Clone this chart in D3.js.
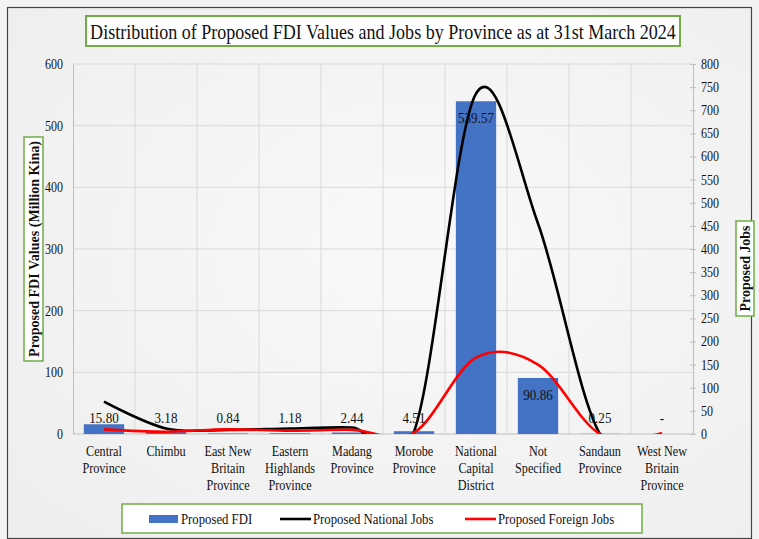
<!DOCTYPE html>
<html>
<head>
<meta charset="utf-8">
<script src="https://cdn.jsdelivr.net/npm/d3@7/dist/d3.min.js"></script>
<style>
  html, body { margin: 0; padding: 0; background: #ffffff; }
  svg { display: block; }
  text { font-family: "Liberation Serif", "Times New Roman", serif; fill: #111; }
</style>
</head>
<body>
<div id="chart"></div>
<script>
// Province categories, with their wrapped label lines
const categories = ["Central Province", "Chimbu", "East New Britain Province", "Eastern Highlands Province",
  "Madang Province", "Morobe Province", "National Capital District", "Not Specified",
  "Sandaun Province", "West New Britain Province"];
const categoryLines = [["Central", "Province"], ["Chimbu"], ["East New", "Britain", "Province"],
  ["Eastern", "Highlands", "Province"], ["Madang", "Province"], ["Morobe", "Province"],
  ["National", "Capital", "District"], ["Not", "Specified"], ["Sandaun", "Province"],
  ["West New", "Britain", "Province"]];

// Proposed FDI (Million Kina) and its printed labels
const fdiValues = [15.80, 3.18, 0.84, 1.18, 2.44, 4.51, 539.57, 90.86, 0.25, 0];
const fdiLabels = ["15.80", "3.18", "0.84", "1.18", "2.44", "4.51", "539.57", "90.86", "0.25", "-"];

// Proposed jobs (right axis)
const nationalJobs = [70, 12, 9, 12, 14, 5, 736, 455, 0, 0];
const foreignJobs = [10, 5, 10, 7, 9, 3, 165, 150, 0, 2];

// Axis ticks
const leftTicks = [0, 100, 200, 300, 400, 500, 600];
const rightTicks = [0, 50, 100, 150, 200, 250, 300, 350, 400, 450, 500, 550, 600, 650, 700, 750, 800];

const W = 759, H = 539;
const plot = { left: 73, right: 693, top: 64, bottom: 434 };
const green = "#70ad47";
const sx = 0.86; // horizontal squeeze of the serif face

const svg = d3.select("#chart").append("svg").attr("width", W).attr("height", H);

// Background panel
const defs = svg.append("defs");
const grad = defs.append("radialGradient").attr("id", "bg").attr("cx", "55%").attr("cy", "45%").attr("r", "75%");
grad.append("stop").attr("offset", "0%").attr("stop-color", "#f9f9f9");
grad.append("stop").attr("offset", "100%").attr("stop-color", "#eeeeee");
svg.append("rect").attr("width", W).attr("height", H).attr("fill", "#f3f3f3");
svg.append("rect").attr("x", 7.5).attr("y", 7.5).attr("width", W - 15).attr("height", H - 8)
  .attr("fill", "url(#bg)").attr("stroke", "#444").attr("stroke-width", 1.2);

defs.append("clipPath").attr("id", "plotClip").append("rect")
  .attr("x", plot.left).attr("y", plot.top - 30).attr("width", plot.right - plot.left)
  .attr("height", plot.bottom - plot.top + 30);

const x = d3.scaleBand().domain(categories).range([plot.left, plot.right])
  .paddingInner(0.35).paddingOuter(0.175);
const yL = d3.scaleLinear().domain([0, 600]).range([plot.bottom, plot.top]);
const yR = d3.scaleLinear().domain([0, 800]).range([plot.bottom, plot.top]);
const cx = c => x(c) + x.bandwidth() / 2;

function ctext(parent, px, py, str, size, anchor, scale) {
  return parent.append("text")
    .attr("transform", `translate(${px},${py}) scale(${scale == null ? sx : scale},1)`)
    .attr("text-anchor", anchor || "middle")
    .attr("font-size", size)
    .text(str);
}

// Gridlines
const grid = svg.append("g");
grid.selectAll("line.h").data(leftTicks.slice(1)).join("line")
  .attr("x1", plot.left).attr("x2", plot.right)
  .attr("y1", d => yL(d)).attr("y2", d => yL(d))
  .attr("stroke", "#d9d9d9").attr("stroke-width", 1);
const step = x.step();
grid.selectAll("line.v").data(categories.slice(1)).join("line")
  .attr("x1", d => x(d) - step * 0.175).attr("x2", d => x(d) - step * 0.175)
  .attr("y1", plot.top).attr("y2", plot.bottom)
  .attr("stroke", "#d9d9d9").attr("stroke-width", 1);

// Left axis
const axL = svg.append("g").attr("transform", `translate(${plot.left},0)`)
  .call(d3.axisLeft(yL).tickValues(leftTicks).tickSize(0).tickPadding(10));
axL.select(".domain").attr("stroke", "#bfbfbf");
axL.selectAll("text").attr("font-size", 14).attr("font-family", "Liberation Serif").attr("fill", "#222")
  .attr("transform", `scale(${sx},1)`).attr("x", -10 / sx);

// Right axis
const axR = svg.append("g").attr("transform", `translate(${plot.right},0)`)
  .call(d3.axisRight(yR).tickValues(rightTicks).tickSizeInner(3).tickSizeOuter(0).tickPadding(5));
axR.select(".domain").attr("stroke", "#bfbfbf");
axR.selectAll(".tick line").attr("stroke", "#bfbfbf").attr("x1", -3);
axR.selectAll("text").attr("font-size", 14).attr("font-family", "Liberation Serif").attr("fill", "#222")
  .attr("transform", `scale(${sx},1)`).attr("x", 8 / sx);

// Bottom axis line
svg.append("line").attr("x1", plot.left).attr("x2", plot.right)
  .attr("y1", plot.bottom).attr("y2", plot.bottom).attr("stroke", "#bfbfbf");

// Category labels
categories.forEach((c, i) => {
  categoryLines[i].forEach((ln, j) => {
    ctext(svg, cx(c), 456 + j * 17, ln, 14.5, "middle", 0.84);
  });
});

// Bars
svg.append("g").selectAll("rect").data(categories).join("rect")
  .attr("x", d => x(d)).attr("width", x.bandwidth())
  .attr("y", (d, i) => yL(fdiValues[i]))
  .attr("height", (d, i) => plot.bottom - yL(fdiValues[i]))
  .attr("fill", "#4472c4");

// Job lines, smoothed and clipped to the plot area
const lineGen = d3.line().x((d, i) => cx(categories[i])).y(d => yR(d)).curve(d3.curveCatmullRom.alpha(0));
const lines = svg.append("g").attr("clip-path", "url(#plotClip)");
lines.append("path").attr("d", lineGen(nationalJobs)).attr("fill", "none")
  .attr("stroke", "#000").attr("stroke-width", 2.6);
lines.append("path").attr("d", lineGen(foreignJobs)).attr("fill", "none")
  .attr("stroke", "#ff0000").attr("stroke-width", 2.6);

// FDI value labels: inside the top of tall bars, above short ones
categories.forEach((c, i) => {
  const top = yL(fdiValues[i]);
  const tall = plot.bottom - top > 30;
  const py = tall ? top + 22 : Math.min(top, plot.bottom - 10) - 1;
  ctext(svg, cx(c), py, fdiLabels[i], 14.5, "middle", 0.9);
});

// Title box
svg.append("rect").attr("x", 86).attr("y", 16).attr("width", 594).attr("height", 30)
  .attr("fill", "#fff").attr("stroke", green).attr("stroke-width", 2);
const title = svg.append("text").attr("font-size", 21).attr("text-anchor", "middle")
  .text("Distribution of Proposed FDI Values and Jobs by Province as at 31st March 2024");
const titleScale = 586 / title.node().getComputedTextLength();
title.attr("transform", `translate(383,38.5) scale(${titleScale},1)`);

// Left axis title
svg.append("rect").attr("x", 24).attr("y", 137).attr("width", 19).attr("height", 224)
  .attr("fill", "#fff").attr("stroke", green).attr("stroke-width", 1.5);
const lt = svg.append("text").attr("text-anchor", "middle").attr("font-size", 14).attr("font-weight", "bold")
  .text("Proposed FDI Values (Million Kina)");
lt.attr("transform", `translate(38.5,249) rotate(-90) scale(${216 / lt.node().getComputedTextLength()},1)`);

// Right axis title
svg.append("rect").attr("x", 736).attr("y", 221).attr("width", 18).attr("height", 95)
  .attr("fill", "#fff").attr("stroke", green).attr("stroke-width", 1.5);
const rt = svg.append("text").attr("text-anchor", "middle").attr("font-size", 14).attr("font-weight", "bold")
  .text("Proposed Jobs");
rt.attr("transform", `translate(750,268.5) rotate(-90) scale(${86 / rt.node().getComputedTextLength()},1)`);

// Legend
const lg = svg.append("g");
lg.append("rect").attr("x", 122).attr("y", 504).attr("width", 520).attr("height", 29)
  .attr("fill", "#fff").attr("stroke", green).attr("stroke-width", 1.5);
const ly = 519;
lg.append("rect").attr("x", 149).attr("y", ly - 4).attr("width", 29).attr("height", 8).attr("fill", "#4472c4");
ctext(lg, 181, ly + 5, "Proposed FDI", 14.5, "start", 0.88);
lg.append("line").attr("x1", 280).attr("x2", 311).attr("y1", ly).attr("y2", ly).attr("stroke", "#000").attr("stroke-width", 2.6);
ctext(lg, 313, ly + 5, "Proposed National Jobs", 14.5, "start", 0.88);
lg.append("line").attr("x1", 465).attr("x2", 496).attr("y1", ly).attr("y2", ly).attr("stroke", "#ff0000").attr("stroke-width", 2.6);
ctext(lg, 498, ly + 5, "Proposed Foreign Jobs", 14.5, "start", 0.88);
</script>
</body>
</html>
